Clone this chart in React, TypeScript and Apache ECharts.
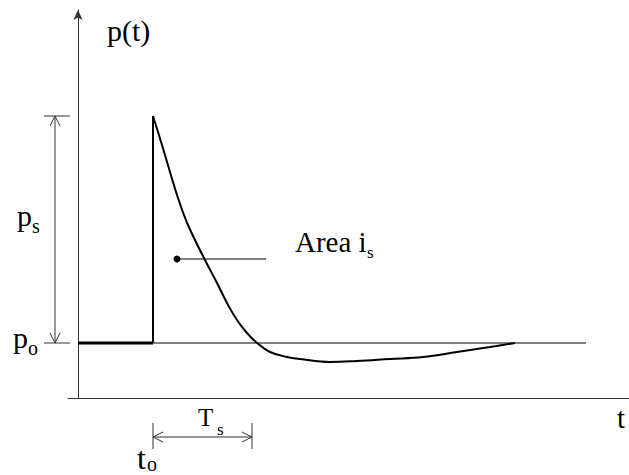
import React, { useEffect, useRef } from "react";
import * as echarts from "echarts";

// Pressure-time history (arbitrary units)
const T0 = 7.5; // arrival time t_o
const P0 = 5.5; // ambient pressure p_o
const PEAK = 28.2; // peak pressure
const BASE_END = 50.8; // end of the ambient reference line
const TS_END = 17.4; // end of positive phase T_s marker
const curveT = [7.5, 8.4, 9.2, 10.0, 11.0, 12.7, 13.9, 14.9, 15.9, 16.9, 17.9, 19.2, 20.9, 22.2, 25.2, 27.9, 31.2, 34.5, 37.9, 41.2, 43.7];
const curveP = [28.2, 25.3, 22.6, 20.0, 17.3, 13.8, 11.5, 9.5, 7.8, 6.5, 5.5, 4.6, 4.1, 3.9, 3.6, 3.7, 3.9, 4.1, 4.6, 5.1, 5.5];
const areaDot = [9.9, 13.9];
const areaLeaderEnd = 18.8;

// Axis ranges
const X_MIN = -1;
const X_MAX = 55.1;
const Y_MIN = 0;
const Y_MAX = 38.8;

// Labels: [text, x, baselineY, fontSize]
const labels: [string, number, number, number][] = [
  ["p(t)", 2.9, 35.7, 30],
  ["p", -6.1, 17.2, 30],
  ["s", -4.6, 16.5, 20],
  ["p", -6.5, 5.0, 30],
  ["o", -5.0, 4.3, 20],
  ["Area i", 21.7, 14.6, 29],
  ["s", 28.9, 14.0, 17],
  ["T", 12.0, -2.8, 25],
  ["s", 13.9, -3.7, 17],
  ["t", 5.9, -7.1, 32],
  ["o", 6.9, -7.3, 20],
  ["t", 53.9, -3.0, 29],
];

const FONT = "'Liberation Serif', 'Times New Roman', 'DejaVu Serif', serif";
const INK = "#000";
const GREY = "#333";

export default function App() {
  const ref = useRef<HTMLDivElement>(null);
  useEffect(() => {
    if (!ref.current) return;
    const chart = echarts.init(ref.current, null, { renderer: "svg" });
    const curve = curveT.map((t, i) => [t, curveP[i]]);
    const lineBase = { type: "line", showSymbol: false, silent: true, animation: false };
    chart.setOption({
      animation: false,
      backgroundColor: "#fff",
      grid: { left: 68, right: 0, top: 10, bottom: 77, containLabel: false },
      xAxis: {
        type: "value",
        min: X_MIN,
        max: X_MAX,
        axisLine: { show: true, onZero: false, lineStyle: { color: GREY, width: 1 } },
        axisTick: { show: false },
        axisLabel: { show: false },
        splitLine: { show: false },
      },
      yAxis: {
        type: "value",
        min: Y_MIN,
        max: Y_MAX,
        axisLine: {
          show: true,
          onZero: true,
          symbol: ["none", "arrow"],
          symbolSize: [7, 10],
          lineStyle: { color: GREY, width: 1 },
        },
        axisTick: { show: false },
        axisLabel: { show: false },
        splitLine: { show: false },
      },
      series: [
        { ...lineBase, data: [[0, P0], [BASE_END, P0]], lineStyle: { color: INK, width: 1 } },
        { ...lineBase, data: [[0, P0], [T0, P0]], lineStyle: { color: INK, width: 3 } },
        { ...lineBase, data: [[T0, P0], [T0, PEAK]], lineStyle: { color: INK, width: 2 } },
        {
          ...lineBase,
          data: curve,
          smooth: 0.4,
          lineStyle: { color: INK, width: 2 },
        },
        {
          type: "line",
          silent: true,
          showSymbol: true,
          symbolSize: 7,
          itemStyle: { color: INK },
          data: [
            { value: areaDot, symbol: "circle" },
            { value: [areaLeaderEnd, areaDot[1]], symbol: "none" },
          ],
          lineStyle: { color: INK, width: 1 },
        },
      ],
    });

    const px = (x: number, y: number) => chart.convertToPixel({ gridIndex: 0 }, [x, y]) as number[];
    const seg = (a: number[], b: number[], w = 1, c = GREY) => ({
      type: "line",
      silent: true,
      shape: { x1: a[0], y1: a[1], x2: b[0], y2: b[1] },
      style: { stroke: c, lineWidth: w },
    });
    const head = (p: number[], dx: number, dy: number) => {
      const L = 10, H = 5;
      const bx = p[0] - dx * L, by = p[1] - dy * L;
      const nx = -dy, ny = dx;
      return {
        type: "polyline",
        silent: true,
        shape: { points: [[bx + nx * H, by + ny * H], [p[0], p[1]], [bx - nx * H, by - ny * H]] },
        style: { stroke: GREY, lineWidth: 1, fill: null },
      };
    };

    const g: any[] = [];
    const dimX = -2.3;
    g.push(seg(px(-3.4, PEAK), px(-0.8, PEAK)));
    g.push(seg(px(-3.4, P0), px(-0.8, P0)));
    const top = px(dimX, PEAK), bot = px(dimX, P0);
    g.push(seg(top, bot));
    g.push(head(top, 0, -1));
    g.push(head(bot, 0, 1));
    const dimY = -3.9;
    g.push(seg(px(T0, -2.5), px(T0, -5.1)));
    g.push(seg(px(TS_END, -2.5), px(TS_END, -5.1)));
    const l = px(T0, dimY), r = px(TS_END, dimY);
    g.push(seg(l, r));
    g.push(head(l, -1, 0));
    g.push(head(r, 1, 0));
    labels.forEach(([text, x, y, fs]) => {
      const p = px(x, y);
      g.push({
        type: "text",
        silent: true,
        x: p[0],
        y: p[1] - 0.34 * fs,
        style: {
          text,
          fontFamily: FONT,
          fontSize: fs,
          fill: INK,
          align: "left",
          verticalAlign: "middle",
        },
      });
    });
    chart.setOption({ graphic: g });
    return () => chart.dispose();
  }, []);
  return (
    <div
      ref={ref}
      style={{ position: "absolute", left: 0, top: 0, width: 629, height: 475, background: "#fff" }}
    />
  );
}
